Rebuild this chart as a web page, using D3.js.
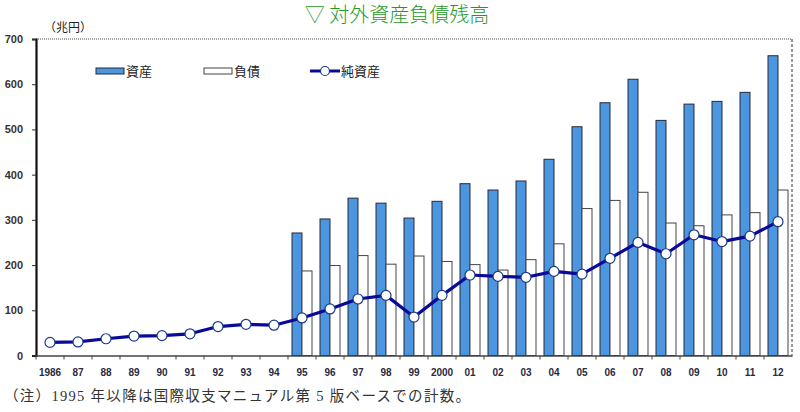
<!DOCTYPE html>
<html><head><meta charset="utf-8">
<script src="https://cdn.jsdelivr.net/npm/d3@7"></script>
<style>body{margin:0;background:#fff}svg{display:block}</style>
</head><body><svg id="c" width="800" height="412"></svg>
<script>
const years = ["1986","87","88","89","90","91","92","93","94","95","96","97","98","99","2000","01","02","03","04","05","06","07","08","09","10","11","12"];
const assets = [null,null,null,null,null,null,null,null,null,271,302,348,337,304,341,380,366,386,434,506,559,611,520,556,562,582,663];
const liabilities = [null,null,null,null,null,null,null,null,null,187,199,221,202,220,208,201,189,212,247,325,343,361,293,287,311,316,366];
const netAssets = [29,30,37,43,44,48,64,69,67,83,103,125,133,85,133,178,175,173,186,180,215,250,225,267,252,264,296];
const yTicks = [0,100,200,300,400,500,600,700];
const titleText = "▽ 対外資産負債残高";
const unitText = "（兆円）";
const noteText = "（注）1995 年以降は国際収支マニュアル第 5 版ベースでの計数。";
const legendNames = ["資産","負債","純資産"];

const svg = d3.select("#c");
const L = 36, R = 792, T = 39, B = 355.5;
const x = d3.scaleBand().domain(years).range([L, R]).padding(0);
const y = d3.scaleLinear().domain([0, 700]).range([B, T]);
const barW = 10;
const cx = d => x(d) + x.bandwidth() / 2;

const assetColor = "#4b96de", navy = "#0a0a9a";

// title
svg.append("text").attr("x", 397).attr("y", 22).attr("text-anchor", "middle")
  .attr("font-family", "'Noto Sans CJK JP'").attr("font-size", 20).attr("font-weight", 300)
  .attr("fill", "#1f9a2a").text(titleText);
svg.append("text").attr("x", 44).attr("y", 32)
  .attr("font-family", "'Noto Sans CJK JP'").attr("font-size", 12).attr("fill", "#222").text(unitText);

// frame: top dotted, right dashed
svg.append("line").attr("x1", L).attr("x2", R).attr("y1", T).attr("y2", T)
  .attr("stroke", "#888").attr("stroke-width", 1.5).attr("stroke-dasharray", "1,1");
svg.append("line").attr("x1", R).attr("x2", R).attr("y1", T).attr("y2", B)
  .attr("stroke", "#333").attr("stroke-width", 1).attr("stroke-dasharray", "3,2");

// bars
const g = svg.append("g");
years.forEach((yr, i) => {
  if (assets[i] != null) {
    g.append("rect").attr("x", cx(yr) - barW).attr("y", y(assets[i]))
      .attr("width", barW).attr("height", y(0) - y(assets[i]))
      .attr("fill", assetColor).attr("stroke", "#2a2a3a").attr("stroke-width", 1);
  }
  if (liabilities[i] != null) {
    g.append("rect").attr("x", cx(yr)).attr("y", y(liabilities[i]))
      .attr("width", barW).attr("height", y(0) - y(liabilities[i]))
      .attr("fill", "#fff").attr("stroke", "#444").attr("stroke-width", 1);
  }
});

// axes
const yAxis = d3.axisLeft(y).tickValues(yTicks).tickSize(4).tickFormat(d3.format("d"));
const ya = svg.append("g").attr("transform", `translate(${L},0)`).call(yAxis);
ya.select(".domain").attr("stroke", "#111").attr("stroke-width", 2.2);
ya.selectAll(".tick line").attr("stroke", "#333");
ya.selectAll("text").attr("font-family", "'Liberation Sans', Arial").attr("font-size", 11)
  .attr("font-weight", "bold").attr("fill", "#3a3030").attr("x", -13);

const xAxis = d3.axisBottom(x).tickSize(0).tickPadding(13);
const xa = svg.append("g").attr("transform", `translate(0,${B})`).call(xAxis);
xa.select(".domain").attr("stroke", "#444").attr("stroke-width", 1.5);
xa.selectAll("text").attr("font-family", "'Liberation Sans', Arial").attr("font-size", 10)
  .attr("font-weight", "bold").attr("fill", "#2a2a40");
// tick marks at category boundaries
xa.selectAll(".bnd").data(years).enter().append("line")
  .attr("x1", d => x(d)).attr("x2", d => x(d)).attr("y1", 0).attr("y2", 4)
  .attr("stroke", "#444");

// net line
const line = d3.line().x((d, i) => cx(years[i])).y(d => y(d));
svg.append("path").datum(netAssets).attr("d", line).attr("fill", "none")
  .attr("stroke", navy).attr("stroke-width", 3.2).attr("stroke-linejoin", "round");
svg.selectAll(".pt").data(netAssets).enter().append("circle")
  .attr("cx", (d, i) => cx(years[i])).attr("cy", d => y(d)).attr("r", 5)
  .attr("fill", "#fff").attr("stroke", "#1a3a8a").attr("stroke-width", 1.2);

// legend
const lg = svg.append("g").attr("font-family", "'Noto Sans CJK JP'").attr("font-size", 13).attr("fill", "#222");
lg.append("rect").attr("x", 96).attr("y", 68).attr("width", 28).attr("height", 6)
  .attr("fill", assetColor).attr("stroke", "#2a2a3a");
lg.append("text").attr("x", 126).attr("y", 76).text(legendNames[0]);
lg.append("rect").attr("x", 204).attr("y", 68).attr("width", 28).attr("height", 6)
  .attr("fill", "#fff").attr("stroke", "#444");
lg.append("text").attr("x", 234).attr("y", 76).text(legendNames[1]);
lg.append("line").attr("x1", 310).attr("x2", 340).attr("y1", 71).attr("y2", 71)
  .attr("stroke", navy).attr("stroke-width", 3);
lg.append("circle").attr("cx", 325).attr("cy", 71).attr("r", 4.5)
  .attr("fill", "#fff").attr("stroke", "#1a3a8a").attr("stroke-width", 1.2);
lg.append("text").attr("x", 341).attr("y", 76).text(legendNames[2]);

// note
svg.append("text").attr("x", 4).attr("y", 401)
  .attr("font-family", "'Liberation Serif', 'Noto Sans CJK JP'").attr("font-size", 14.5)
  .attr("textLength", 466).attr("lengthAdjust", "spacing")
  .attr("fill", "#333").text(noteText);
</script></body></html>
